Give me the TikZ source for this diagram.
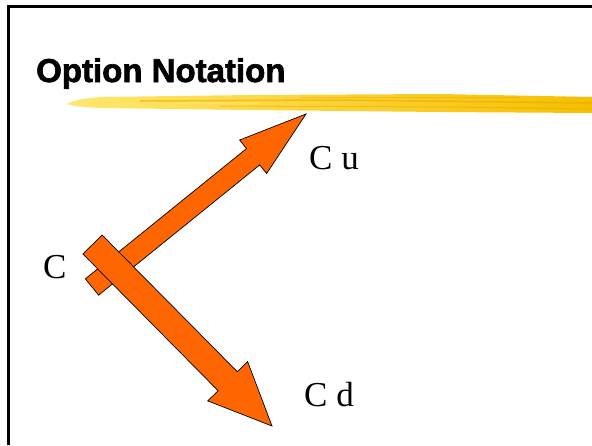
\documentclass[tikz,border=0pt]{standalone}
\usepackage{fontspec}
\setmainfont{Liberation Serif}
\newfontfamily\titlefont[BoldFeatures={FakeBold=2}]{Liberation Sans}
\usetikzlibrary{calc}
\definecolor{arrowfill}{RGB}{255,102,0}
\definecolor{brushlight}{RGB}{255,232,110}
\definecolor{brushdark}{RGB}{246,190,0}
\definecolor{brushstreak}{RGB}{236,170,0}

% block arrow: tail, tip, shaft half width, head half width, head length
\newcommand{\blockarrow}[5]{%
  \path ($(#2)!#5!(#1)$) coordinate (hb);
  \filldraw[blockarr]
    ($(#1)!#3!90:(#2)$) -- ($(hb)!#3!90:(#2)$) -- ($(hb)!#4!90:(#2)$)
    -- (#2) -- ($(hb)!#4!-90:(#2)$) -- ($(hb)!#3!-90:(#2)$)
    -- ($(#1)!#3!-90:(#2)$) -- cycle;
}

\begin{document}
\begin{tikzpicture}[
    x=1pt, y=-1pt,
    blockarr/.style = {fill=arrowfill, draw=black, line width=0.7pt, line join=miter},
    label/.style    = {anchor=base west, inner sep=0pt,
                       font=\fontsize{35}{40}\selectfont},
    frame/.style    = {line width=3pt, black},
  ]
    \useasboundingbox (0,0) rectangle (592,445);

    % slide frame
    \draw[frame] (592,6.5) -- (8,6.5) -- (8,445);

    % title and brush stroke
    \node[anchor=base west, inner sep=0pt,
          font=\titlefont\bfseries\fontsize{33}{38}\selectfont] (title) at (36,82) {Option Notation};
    \shade[left color=brushlight, right color=brushdark]
      (66,104) .. controls (80,99) .. (100,97) -- (250,95) -- (440,94) -- (592,97)
      -- (592,113) -- (440,112) -- (250,110) -- (100,108) .. controls (80,107) .. (66,104) -- cycle;
    \draw[brushstreak, line width=1.5pt, opacity=0.6] (140,101) -- (330,100) -- (592,103);
    \draw[brushstreak, line width=1pt, opacity=0.5] (220,106) -- (450,107) -- (592,109);
    \draw[brushstreak, line width=0.8pt, opacity=0.5] (300,97) -- (520,97);
    \draw[brushlight, line width=1pt, opacity=0.8] (90,104) -- (260,103);

    % labels
    \node[label] (c)  at (43,278)  {C};
    \node[label] (cu) at (309,169) {C u};
    \node[label] (cd) at (304,406) {C d};

    % arrow ends
    \coordinate (upTail) at (92,287);
    \coordinate (upTip)  at (306,114);
    \coordinate (dnTail) at (92.5,244.5);
    \coordinate (dnTip)  at (272,426);

    \blockarrow{upTail}{upTip}{10.5pt}{21.5pt}{68pt}
    \blockarrow{dnTail}{dnTip}{13.5pt}{28pt}{63pt}
\end{tikzpicture}
\end{document}
